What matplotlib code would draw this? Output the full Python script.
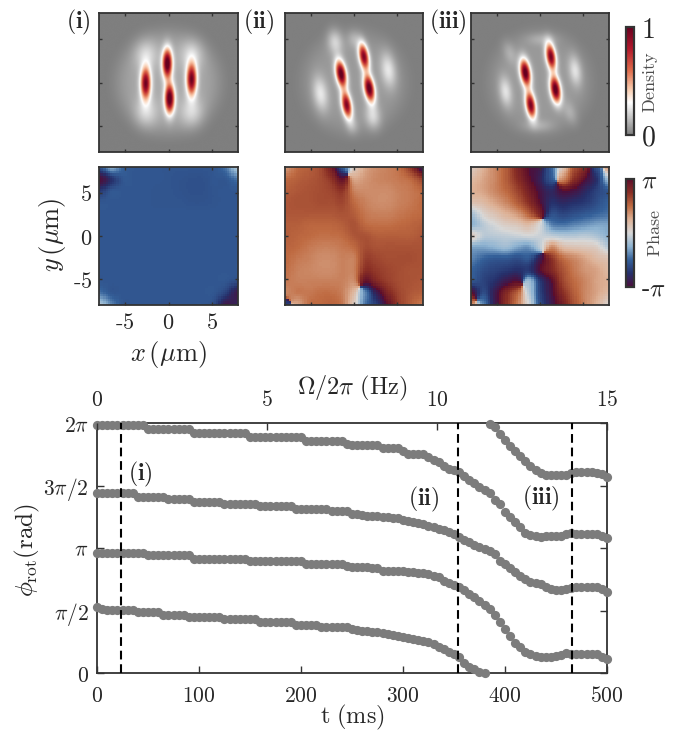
import numpy as np
import matplotlib
matplotlib.use("Agg")
import matplotlib.pyplot as plt
from matplotlib.colors import LinearSegmentedColormap

plt.rcParams['mathtext.fontset'] = 'cm'
plt.rcParams['font.family'] = ['DejaVu Serif']

W, H = 678, 733

# ---------- data ----------
T_MS = list(range(0, 505, 5))
PHI_A = [1.985,1.985,1.985,1.985,1.985,1.985,1.985,1.985,1.985,1.985,
         1.955,1.955,1.955,1.955,1.955,1.955,1.955,1.955,1.955,
         1.917,1.917,1.917,1.917,1.917,1.917,1.917,1.917,1.917,1.917,1.917,
         1.885,1.885,1.885,1.885,1.885,1.885,1.885,1.885,1.885,1.885,1.885,
         1.858,1.858,1.858,1.858,1.858,1.858,1.858,1.858,
         1.835,1.824,1.824,1.824,1.824,1.824,1.824,1.797,1.797,1.797,1.797,1.78,
         1.752,1.752,1.752,1.752,1.725,1.704,1.69,1.655,1.635,1.625,1.605,1.575,1.545,
         1.517,1.49,1.465,1.44,1.385,1.35,1.29,1.25,1.21,1.17,1.122,1.104,1.096,1.09,
         1.096,1.096,1.096,1.096,1.112,1.117,1.112,1.112,1.112,1.112,1.112,1.096,1.077]
PHI_B = [1.437,1.437,1.437,1.437,1.437,1.437,1.437,1.437,
         1.41,1.41,1.41,1.41,1.41,1.41,1.39,1.39,1.39,1.39,1.39,
         1.37,1.37,1.37,1.37,1.37,1.37,1.352,1.352,1.352,1.352,1.352,1.352,1.352,
         1.336,1.336,1.336,1.336,1.336,1.336,1.336,1.315,1.315,1.315,1.315,1.315,1.315,1.315,
         1.296,1.296,1.296,1.296,
         1.272,1.27,1.265,1.26,1.256,1.255,1.25,1.245,1.24,1.238,1.225,1.215,1.205,1.2,1.19,
         1.18,1.17,1.155,1.145,1.13,1.11,1.09,1.065,1.045,1.024,1.005,.99,.975,.95,.9,.87,
         .84,.81,.775,.75,.73,.72,.712,.685,.672,.668,.668,.672,.68,.69,.69,.69,.69,.688,.67,.645]
PHI_C = [.963,.963,.963,.963,.963,.963,.963,.963,.963,.963,
         .941,.941,.941,.941,.941,.941,.941,.941,.941,
         .912,.912,.912,.912,.912,.912,.912,.912,.912,.912,.912,
         .896,.896,.896,.896,.896,.896,.896,.896,.896,.896,.896,
         .872,.872,.872,.872,.872,.872,.872,.872,
         .86,.851,.845,.845,.845,.843,.843,.819,.819,.819,.819,.815,.81,.806,.803,.798,.79,
         .775,.765,.735,.72,.705,.69,.665,.635,.611,.58,.545,.51,.465,.41,.35,.295,.24,.205,
         .17,.155,.14,.131,.131,.131,.133,.145,.157,.152,.15,.15,.152,.155,.152,.13,.112]
PHI_D = [.525,.515,.504,.504,.504,.504,.504,.504,.485,.485,.485,.485,.485,
         .464,.464,.464,.464,.464,.445,.445,.445,.445,.445,.445,.445,
         .429,.429,.429,.429,.429,.429,.429,.408,.408,.408,.408,.408,.408,.408,
         .384,.384,.384,.384,.384,.368,.368,.368,.368,.368,.368,
         .349,.345,.34,.335,.332,.33,.32,.312,.305,.296,.29,.282,.275,.266,.255,.245,.23,.21,
         .195,.172,.15,.128,.08,.05,.03,.012,.0,1.992,1.965,1.91,1.865,1.82,1.775,1.735,1.695,
         1.66,1.624,1.6,1.585,1.584,1.584,1.584,1.584,1.6,1.605,1.605,1.605,1.605,1.6,1.59,1.57]
CUT_TIMES = [23.5, 354, 466]
CUT_LABELS = ['(i)', '(ii)', '(iii)']

# density lobes per panel: x, y (um), sigma along / across, tilt (deg), amplitude
LOBES_I = [(-0.13, 2.2, 1.15, .38, 0, 1.0), (.13, -1.85, 1.15, .38, 0, 1.0),
           (-2.63, -.1, 1.25, .4, 0, .88), (2.67, .36, 1.25, .4, 0, .88),
           (-2.6, 3.2, 1.2, .9, 0, .13), (2.7, 3.2, 1.2, .9, 0, .13),
           (-2.6, -3.4, 1.2, .9, 0, .13), (2.7, -3.4, 1.2, .9, 0, .13)]
LOBES_II = [(-1.5, 1.0, 1.05, .4, 10, 1.0), (-.85, -2.6, 1.05, .38, 10, .88),
            (1.15, 3.0, 1.05, .38, 10, .88), (1.77, -.67, 1.05, .4, 10, 1.0),
            (-3.9, -1.3, 1.4, .6, 8, .19), (4.0, 1.45, 1.4, .6, 8, .19),
            (-2.2, 4.7, 1.0, .6, 8, .16), (2.2, -3.9, 1.0, .6, 8, .16),
            (0, 5.0, .7, .5, 8, .08), (-.2, -5.0, .7, .5, 8, .08)]
LOBES_III = [(-1.7, 1.13, 1.05, .4, 9, 1.0), (-1.08, -2.6, 1.05, .38, 9, .9),
             (1.27, 3.0, 1.05, .38, 9, .9), (1.8, -.8, 1.05, .4, 9, 1.0),
             (-4.0, -1.05, 1.2, .5, 8, .18), (4.1, 1.36, 1.2, .5, 8, .18),
             (-3.5, 3.4, 1.0, .5, 20, .07), (3.5, -3.5, 1.0, .5, 20, .07),
             (.2, 5.0, .5, 1.2, 0, .07), (-.2, -5.0, .5, 1.2, 0, .07)]
HALO_AMP = [.1, .065, .065]
HALO_RADIUS = [5.9, 6.0, 5.9]

# phase/pi read on a 13 x 13 grid, top row first
PHASE_I = [[-.6,-.3,-.5,-.55,-.55,-.55,-.56,-.56,-.56,-.56,-.55,-.45,-.15],
           [1.,-.75,-.55,-.55,-.55,-.55,-.56,-.57,-.58,-.58,-.55,-.55,-.45],
           [-.7,-.55,-.55,-.55,-.55,-.56,-.56,-.57,-.58,-.58,-.56,-.55,-.55],
           [-.55,-.55,-.55,-.55,-.55,-.56,-.56,-.56,-.57,-.57,-.56,-.55,-.55],
           [-.55,-.55,-.55,-.55,-.55,-.55,-.55,-.55,-.55,-.55,-.55,-.55,-.55],
           [-.55,-.55,-.55,-.55,-.55,-.55,-.55,-.55,-.55,-.55,-.55,-.55,-.55],
           [-.55,-.55,-.55,-.55,-.55,-.55,-.55,-.55,-.55,-.55,-.55,-.55,-.55],
           [-.55,-.55,-.55,-.55,-.55,-.55,-.55,-.55,-.55,-.55,-.55,-.55,-.55],
           [-.55,-.55,-.55,-.55,-.55,-.55,-.55,-.55,-.55,-.55,-.55,-.55,-.55],
           [-.55,-.55,-.55,-.55,-.55,-.55,-.55,-.55,-.55,-.55,-.55,-.55,-.55],
           [-.55,-.55,-.55,-.55,-.55,-.55,-.55,-.55,-.55,-.55,-.55,-.55,-.6],
           [-.45,-.55,-.55,-.55,-.55,-.55,-.55,-.55,-.55,-.55,-.55,-.65,-.9],
           [-.15,-.4,-.55,-.55,-.55,-.55,-.55,-.55,-.55,-.55,-.6,-.9,-.85]]
PHASE_II = [[.35,.5,.55,.62,.85,-.55,.1,.3,.38,.42,.48,.7,-.9],
            [.5,.55,.58,.62,.72,.95,.3,.35,.4,.42,.45,.5,.65],
            [.55,.58,.6,.62,.65,.72,.42,.38,.38,.38,.42,.45,.5],
            [.58,.6,.6,.62,.62,.65,.5,.42,.38,.38,.42,.45,.5],
            [.58,.58,.58,.58,.58,.6,.55,.45,.42,.42,.45,.48,.5],
            [.55,.55,.52,.52,.52,.55,.6,.5,.48,.48,.5,.52,.55],
            [.55,.52,.5,.48,.48,.5,.58,.6,.55,.55,.55,.55,.58],
            [.52,.5,.45,.42,.42,.45,.5,.62,.6,.6,.6,.6,.6],
            [.5,.45,.42,.38,.38,.42,.42,.68,.65,.62,.62,.62,.6],
            [.48,.42,.4,.38,.38,.42,.42,.75,.7,.65,.62,.6,.6],
            [.45,.42,.42,.42,.42,.42,.38,.95,.78,.68,.62,.6,.58],
            [.4,.45,.45,.48,.48,.42,.2,-.4,-.9,.8,.65,.58,.55],
            [-.7,.3,.48,.5,.52,.45,.1,-.45,-.7,.95,.68,.55,.45]]
PHASE_III = [[.1,.25,.4,.55,.8,1.,-.9,-.5,.15,.6,.8,-.6,.3],
             [.2,.3,.4,.55,.75,.95,-.85,-.55,.4,.75,1.,-.75,-.2],
             [.25,.3,.4,.5,.65,.85,-.95,-.8,1.,-.95,-.8,-.65,-.55],
             [.15,.2,.3,.4,.55,.75,1.,-.75,-.8,-.75,-.7,-.6,-.5],
             [-.15,.05,.15,.25,.35,.55,.85,-.6,-.65,-.6,-.55,-.5,-.45],
             [-.25,-.1,.0,.08,.12,.2,.0,-.4,-.45,-.4,-.35,-.3,-.3],
             [.1,-.1,-.1,-.08,-.05,-.02,-.05,-.08,-.12,-.12,-.1,-.15,-.25],
             [-.3,-.3,-.25,-.2,-.3,-.35,-.1,.4,.2,.15,.12,.08,-.1],
             [-.4,-.5,-.55,-.55,-.6,-.55,-.9,.75,.5,.4,.3,.2,.15],
             [-.5,-.6,-.65,-.7,-.75,-.7,1.,.8,.6,.45,.35,.3,.2],
             [-.55,-.65,-.75,-.9,1.,-.2,-.7,1.,.65,.5,.4,.3,.25],
             [1.,-.6,-.9,.8,.55,-.1,-.65,-.95,.75,.55,.4,.3,.2],
             [.4,-.4,-.9,.75,.45,.0,-.6,-.9,.85,.6,.4,.25,.05]]

PANEL_LABELS = ['(i)', '(ii)', '(iii)']
XY_TICKS = [-5, 0, 5]
T_TICKS = [0, 100, 200, 300, 400, 500]
F_TICKS = [0, 5, 10, 15]
PHI_TICKS = [0, .5, 1, 1.5, 2]
PHI_TICK_LABELS = ['$0$', r'$\pi/2$', r'$\pi$', r'$3\pi/2$', r'$2\pi$']

# ---------- colours ----------
dens_cmap = LinearSegmentedColormap.from_list('dens', [
    (0, '#7f7f7f'), (.3, '#ffffff'), (.42, '#f9cdb0'), (.6, '#de6b4a'),
    (.8, '#b2182b'), (1, '#67001f')])
phase_cmap = LinearSegmentedColormap.from_list('phase', [
    (0, '#4d0f3c'), (.125, '#26306b'), (.25, '#35619a'), (.375, '#8fb4d2'),
    (.5, '#d8d8d8'), (.625, '#deb297'), (.75, '#bf6b42'), (.875, '#8a2f25'),
    (1, '#5c0d2b')])
SPINE = '#333333'
TXT = '#262626'

def px_axes(fig, l, t, r, b, **kw):
    return fig.add_axes([l / W, 1 - b / H, (r - l) / W, (b - t) / H], **kw)

def ftext(fig, x, y, s, **kw):
    kw.setdefault('ha', 'center'); kw.setdefault('va', 'center'); kw.setdefault('color', TXT)
    return fig.text(x / W, 1 - y / H, s, **kw)

def density_map(lobes, amp, radius, n=280):
    v = np.linspace(-8, 8, n)
    X, Y = np.meshgrid(v, v)
    out = amp * np.exp(-(np.hypot(X, Y) / radius) ** 6)
    for x0, y0, sl, sw, tilt, a in lobes:
        c, s = np.cos(np.radians(tilt)), np.sin(np.radians(tilt))
        dx, dy = X - x0, Y - y0
        along = -s * dx + c * dy
        across = c * dx + s * dy
        out = out + a * np.exp(-.5 * (along / sl) ** 2 - .5 * (across / sw) ** 2)
    return np.clip(out, 0, 1)

def catmull_weights(n, m):
    """Weight matrix taking m+1 grid samples to n output samples."""
    out = np.zeros((n, m + 1))
    for k, u in enumerate(np.linspace(0, m, n)):
        i = min(int(u), m - 1)
        f = u - i
        w = [(-f + 2 * f**2 - f**3) / 2, (2 - 5 * f**2 + 3 * f**3) / 2,
             (f + 4 * f**2 - 3 * f**3) / 2, (-f**2 + f**3) / 2]
        for off, wk in zip((-1, 0, 1, 2), w):
            out[k, int(np.clip(i + off, 0, m))] += wk
    return out

def phase_map(grid, n=64):
    """Upsample the read grid through its unit phasors so that wrap lines stay sharp."""
    g = np.exp(1j * np.pi * np.array(grid, float))[::-1]
    w = catmull_weights(n, g.shape[0] - 1)
    return np.angle(w @ g @ w.T)

def style_image_axes(ax):
    ax.set_xlim(-8, 8); ax.set_ylim(-8, 8)
    ax.set_xticks(XY_TICKS); ax.set_yticks(XY_TICKS)
    ax.tick_params(direction='in', length=2.5, width=1, color=SPINE, top=True, right=True,
                   labelbottom=False, labelleft=False)
    for sp in ax.spines.values():
        sp.set_linewidth(1.3); sp.set_color(SPINE)

fig = plt.figure(figsize=(W / 100, H / 100), dpi=100, facecolor='white')

lefts = [(99, 238), (285, 423), (471, 609)]
dens_panels = [(LOBES_I, 0), (LOBES_II, 1), (LOBES_III, 2)]
phase_panels = [PHASE_I, PHASE_II, PHASE_III]
for (l, r), (lobes, k), ph in zip(lefts, dens_panels, phase_panels):
    ax = px_axes(fig, l, 13, r, 152)
    im_d = ax.imshow(density_map(lobes, HALO_AMP[k], HALO_RADIUS[k]), origin='lower',
                     extent=[-8, 8, -8, 8], cmap=dens_cmap, vmin=0, vmax=1,
                     interpolation='bilinear', aspect='auto')
    style_image_axes(ax)
    ax = px_axes(fig, l, 167, r, 305)
    im_p = ax.imshow(phase_map(ph), origin='lower', extent=[-8, 8, -8, 8],
                     cmap=phase_cmap, vmin=-np.pi, vmax=np.pi,
                     interpolation='nearest', aspect='auto')
    style_image_axes(ax)
    if k == 0:
        ax.tick_params(labelbottom=True, labelleft=True, labelsize=16, pad=5, labelcolor=TXT)
        ax.set_xticklabels([r'$\mathrm{\text{-}}5$', '$0$', '$5$'])
        ax.set_yticklabels([r'$\mathrm{\text{-}}5$', '$0$', '$5$'])

for (x, lab) in zip([78, 259, 448], PANEL_LABELS):
    ftext(fig, x, 22, r'$\mathbf{%s}$' % lab, fontsize=17)

ftext(fig, 53, 235, r'$y\,(\mu\mathrm{m})$', fontsize=19, rotation=90)
ftext(fig, 168, 354, r'$x\,(\mu\mathrm{m})$', fontsize=19)

# colour bars
cax = px_axes(fig, 626, 27, 634, 135)
cb = fig.colorbar(im_d, cax=cax, ticks=[0, 1])
cb.ax.set_yticklabels(['$0$', '$1$'], fontsize=20, color=TXT)
cb.ax.tick_params(length=0, pad=5)
cb.outline.set_linewidth(1.6); cb.outline.set_edgecolor(SPINE)
ftext(fig, 650, 82, r'$\mathrm{Density}$', fontsize=13, rotation=90, color='#4d4d4d')

cax = px_axes(fig, 626, 179, 634, 287)
cb = fig.colorbar(im_p, cax=cax, ticks=[-np.pi, np.pi])
cb.ax.set_yticklabels([r'$\mathrm{\text{-}}\pi$', r'$\pi$'], fontsize=18, color=TXT)
cb.ax.tick_params(length=0, pad=5)
cb.outline.set_linewidth(1.6); cb.outline.set_edgecolor(SPINE)
ftext(fig, 655, 233, r'$\mathrm{Phase}$', fontsize=13, rotation=90, color='#4d4d4d')

# rotation-angle panel
ax = px_axes(fig, 97, 423, 607, 673)
for series in (PHI_A, PHI_B, PHI_C, PHI_D):
    ax.scatter(T_MS, np.array(series) * np.pi, s=44, color='#7c7c7c', linewidths=0,
               clip_on=False, zorder=3)
for tc in CUT_TIMES:
    ax.axvline(tc, color='black', lw=1.5, dashes=(4.2, 2.3), zorder=4)
ax.set_xlim(0, 500); ax.set_ylim(0, 2 * np.pi)
ax.set_xticks(T_TICKS)
ax.set_xticklabels(['$%d$' % v for v in T_TICKS])
ax.set_yticks(np.array(PHI_TICKS) * np.pi)
ax.set_yticklabels(PHI_TICK_LABELS)
ax.tick_params(direction='in', length=5, width=1, color=SPINE, top=True, right=True,
               labelsize=15.5, labelcolor=TXT, pad=9)
ax.tick_params(axis='y', pad=6)
for sp in ax.spines.values():
    sp.set_linewidth(1.3); sp.set_color(SPINE)
ax2 = ax.twiny()
ax2.set_xlim(0, 15)
ax2.set_xticks(F_TICKS)
ax2.set_xticklabels(['$%d$' % v for v in F_TICKS])
ax2.tick_params(direction='in', length=5, width=1, color=SPINE, labelsize=15.5, labelcolor=TXT, pad=9)
for sp in ax2.spines.values():
    sp.set_visible(False)

ftext(fig, 352, 388, r'$\Omega/2\pi\ \mathrm{(Hz)}$', fontsize=17.5)
ftext(fig, 352, 717, r'$\mathrm{t\ (ms)}$', fontsize=17.5)
ftext(fig, 27, 550, r'$\phi_{\mathrm{rot}}\mathrm{(rad)}$', fontsize=18, rotation=90)
for (x, y), lab in zip([(140, 474), (424, 499), (541, 498)], CUT_LABELS):
    ftext(fig, x, y, r'$\mathbf{%s}$' % lab, fontsize=17)

fig.savefig('out.png', dpi=100, facecolor='white')
